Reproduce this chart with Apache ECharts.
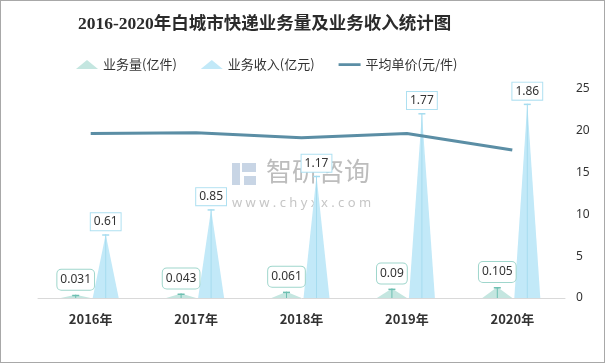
<!DOCTYPE html>
<html>
<head>
<meta charset="utf-8">
<script src="https://cdn.jsdelivr.net/npm/echarts@6/dist/echarts.min.js"></script>
<style>
html,body{margin:0;padding:0;background:#fff;}
#c{width:605px;height:363px;box-sizing:border-box;border:1px solid #a8a8a8;}
</style>
</head>
<body>
<div id="c"></div>
<script>
// ---- data ----
var titleText = '2016-2020年白城市快递业务量及业务收入统计图';
var categories = ['2016年', '2017年', '2018年', '2019年', '2020年'];
var volumeName = '业务量(亿件)';
var revenueName = '业务收入(亿元)';
var priceName = '平均单价(元/件)';
var volume = [0.031, 0.043, 0.061, 0.09, 0.105];     // 亿件
var revenue = [0.61, 0.85, 1.17, 1.77, 1.86];        // 亿元
var unitPrice = [19.68, 19.77, 19.18, 19.67, 17.71]; // 元/件
var rightTicks = [0, 5, 10, 15, 20, 25];

var chart = echarts.init(document.getElementById('c'));
var CJK = "'Noto Sans CJK SC', 'Noto Sans', sans-serif";

var hiddenX = function () {
  return { type: 'category', data: categories, show: false, gridIndex: 0 };
};

var option = {
  animation: false,
  backgroundColor: '#fff',
  title: {
    text: titleText,
    left: 72,
    top: 10,
    textStyle: {
      fontSize: 17.5,
      fontWeight: 'bold',
      color: '#2b2b2b',
      fontFamily: "'Liberation Serif', 'Noto Sans CJK SC', serif"
    }
  },
  legend: {
    left: 70,
    top: 52,
    itemWidth: 22,
    itemHeight: 9,
    itemGap: 24,
    textStyle: { fontSize: 13, color: '#333', fontFamily: CJK },
    data: [
      { name: volumeName, icon: 'triangle' },
      { name: revenueName, icon: 'triangle' },
      { name: priceName, icon: 'path://M0,0 L0.01,0 M0,3 H24 V6 H0 Z M0,9 L0.01,9' }
    ]
  },
  grid: { left: 37, right: 39, top: 88, bottom: 64 },
  xAxis: [
    {
      type: 'category',
      data: categories,
      axisLine: { lineStyle: { color: '#d9d9d9', width: 1 } },
      axisTick: { show: false },
      axisLabel: { fontSize: 13, fontWeight: 'bold', color: '#333', margin: 15, fontFamily: CJK }
    },
    hiddenX(),
    hiddenX()
  ],
  yAxis: [
    { type: 'value', min: 0, max: 2, show: false, splitLine: { show: false } },
    {
      type: 'value',
      position: 'right',
      min: rightTicks[0],
      max: rightTicks[rightTicks.length - 1],
      interval: 5,
      axisLine: { show: false },
      axisTick: { show: false },
      splitLine: { show: false },
      axisLabel: { fontSize: 12, color: '#333', margin: 11, fontFamily: "'Noto Sans', sans-serif" }
    }
  ],
  graphic: [
    { type: 'rect', left: 231, top: 162, z: 0, shape: { width: 8, height: 22 }, style: { fill: '#c8d5e5' } },
    { type: 'rect', left: 241, top: 162, z: 0, shape: { width: 14, height: 9 }, style: { fill: '#c8d5e5' } },
    { type: 'rect', left: 243, top: 175, z: 0, shape: { width: 12, height: 9 }, style: { fill: '#c8d5e5' } },
    { type: 'text', left: 265, top: 157, z: 0, style: { text: '智研咨询', font: "26px 'Noto Sans CJK SC'", fill: '#bdbdbd' } },
    { type: 'text', left: 231, top: 196, z: 0, style: { text: 'w w w . c h y x x . c o m', font: "13px 'Noto Sans'", fill: '#c6c6c6' } }
  ],
  series: [
    {
      name: volumeName,
      type: 'pictorialBar',
      xAxisIndex: 0, yAxisIndex: 0,
      barWidth: 30, barGap: 0,
      symbol: 'triangle',
      symbolSize: ['100%', '100%'],
      itemStyle: { color: '#c4e6e0' },
      z: 2,
      data: volume
    },
    {
      name: revenueName,
      type: 'pictorialBar',
      xAxisIndex: 0, yAxisIndex: 0,
      barWidth: 30, barGap: 0,
      symbol: 'triangle',
      symbolSize: [26, '100%'],
      itemStyle: { color: '#c2e9f8' },
      z: 2,
      data: revenue
    },
    {
      name: 'vline-volume',
      type: 'pictorialBar',
      xAxisIndex: 1, yAxisIndex: 0,
      barWidth: 30, barGap: 0,
      symbol: 'rect',
      symbolSize: [1, '100%'],
      itemStyle: { color: '#6dbfb1' },
      z: 3,
      label: {
        show: true,
        position: 'top',
        distance: 5,
        formatter: '{c}',
        fontSize: 12,
        color: '#333',
        fontFamily: "'Noto Sans', sans-serif",
        backgroundColor: '#fff',
        borderColor: '#9fd6cc',
        borderWidth: 1,
        borderRadius: 4,
        padding: [3, 3],
        lineHeight: 14
      },
      data: volume
    },
    {
      name: 'vline-revenue',
      type: 'pictorialBar',
      xAxisIndex: 1, yAxisIndex: 0,
      barWidth: 30, barGap: 0,
      symbol: 'rect',
      symbolSize: [1, '100%'],
      itemStyle: { color: '#a6dcef' },
      z: 3,
      label: {
        show: true,
        position: 'top',
        distance: 4,
        formatter: '{c}',
        fontSize: 12,
        color: '#333',
        fontFamily: "'Noto Sans', sans-serif",
        backgroundColor: '#fff',
        borderColor: '#aee0f1',
        borderWidth: 1,
        padding: [2, 3],
        lineHeight: 13
      },
      data: revenue
    },
    {
      name: 'cap-volume',
      type: 'pictorialBar',
      xAxisIndex: 2, yAxisIndex: 0,
      barWidth: 30, barGap: 0,
      symbol: 'rect',
      symbolSize: [7, 1.5],
      symbolPosition: 'end',
      itemStyle: { color: '#6dbfb1' },
      z: 3,
      data: volume
    },
    {
      name: 'cap-revenue',
      type: 'pictorialBar',
      xAxisIndex: 2, yAxisIndex: 0,
      barWidth: 30, barGap: 0,
      symbol: 'rect',
      symbolSize: [7, 1.5],
      symbolPosition: 'end',
      itemStyle: { color: '#a6dcef' },
      z: 3,
      data: revenue
    },
    {
      name: priceName,
      type: 'line',
      xAxisIndex: 0, yAxisIndex: 1,
      symbol: 'none',
      smooth: false,
      lineStyle: { color: '#5b8ea5', width: 3 },
      itemStyle: { color: '#5b8ea5' },
      z: 4,
      data: unitPrice
    }
  ]
};
chart.setOption(option);
</script>
</body>
</html>
